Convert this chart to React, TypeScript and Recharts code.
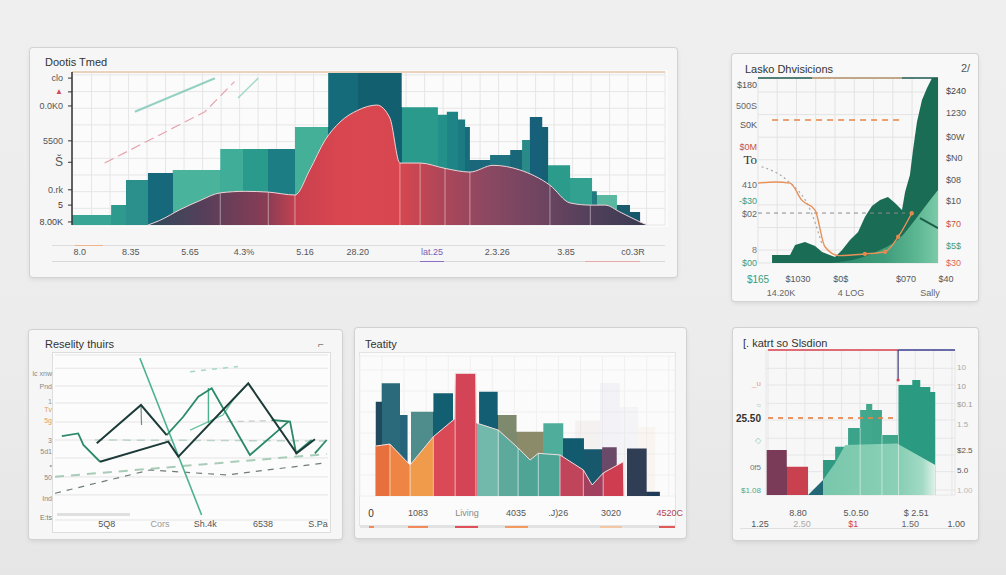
import React from "react";
import { ComposedChart, Area, Line, XAxis, YAxis, CartesianGrid, ReferenceLine, ReferenceDot } from "recharts";

const FONT = "'Liberation Sans', Arial, Helvetica, sans-serif";

type Pt = { u: number; v: number };
const zip = (xs: number[], vs: number[]): Pt[] => xs.map((u, i) => ({ u, v: vs[i] }));
const range = (a: number, step: number, b: number) => {
  const r: number[] = [];
  for (let t = a; t <= b + 1e-9; t += step) r.push(+t.toFixed(2));
  return r;
};

// ================= Panel 1 : "Dootis Tmed" =================
const trendStepX = [0, 6.6, 9.1, 12.8, 17.0, 25.0, 28.8, 33.1, 37.6, 43.2, 48.2, 55.6, 61.7, 63.2, 65.1, 66.3, 67.1, 70.5, 73.9, 75.9, 77.2, 79.3, 80.3, 84.0, 87.7, 88.5, 91.9, 94.1, 95.8];
const trendStepV = [6.5, 13, 29.4, 34, 36, 49.7, 49.7, 49.7, 64, 100, 100, 77, 72, 74, 69, 64, 42.5, 45.8, 49, 55.6, 70.6, 64, 39, 30.7, 22, 19.6, 13, 8.5, 0];
const trendStepColors = ["#38a595", "#2e9a8e", "#2b8f8c", "#16697b", "#4ab39b", "#40ad99", "#2a9a8d", "#1c7e84", "#45b098", "#156b79", "#12606f", "#2a9a8d", "#24908a", "#1f8486", "#1c7a82", "#176c7c", "#1b687b", "#1f7381", "#1a6679", "#2a8a88", "#17607a", "#165f75", "#2b9b8c", "#33a190", "#1f7a80", "#5ab8a0", "#1a5c6e", "#17566a"];
const trendWaveX = [12.8, 14.8, 18.2, 21.6, 25, 29.2, 33.1, 37.6, 40.1, 42.7, 45.2, 48.2, 51.4, 53.6, 55.3, 58.7, 62.9, 67.1, 71, 75.5, 80.6, 84, 87.4, 89.9, 92.4, 95.8, 97];
const trendWaveV = [0, 3, 10, 16, 21, 22, 21.5, 19.6, 36, 55.6, 67.3, 75, 78.4, 70, 40.5, 40.5, 37, 34.6, 39, 36, 26, 14.4, 13, 13, 8.5, 2, 0];
const trendWaveStopAt = [12.8, 22, 33, 38, 45, 55, 62, 70, 80, 90, 97];
const trendWaveStopColors = ["#2f4a5c", "#553f5a", "#8a3d55", "#c8414f", "#d9464f", "#d8474f", "#b04658", "#8c4862", "#6b4460", "#4a3e58", "#3a3a55"];
const trendSeparators = [25, 33.1, 37.6, 55.3, 58.7, 62.9, 67.1, 80.6, 87.4];
const trendPinkX = [5.5, 22.4, 27.4];
const trendPinkV = [40.5, 74, 93.7];
const trendTealX = [10.6, 24.1];
const trendTealV = [74, 95.9];
const trendTeal2X = [28, 31.4];
const trendTeal2V = [83, 96];
const trendXAt = [1.3, 9.9, 19.9, 29, 39.3, 48.2, 60.7, 71.7, 83.3, 94.6];
const trendXText = ["8.0", "8.35", "5.65", "4.3%", "5.16", "28.20", "lat.25", "2.3.26", "3.85", "c0.3R"];
const trendXColor = ["#555", "#555", "#555", "#555", "#555", "#555", "#7b5cb5", "#555", "#555", "#555"];
const trendYAt = [2, 13, 23, 41, 55, 77.8, 87, 96];
const trendYText = ["8.00K", "5", "0.rk", "Š", "5500", "0.0K0", "▲", "clo"];
const trendYColor = ["#444", "#6b2a2a", "#555", "#555", "#555", "#555", "#d04a58", "#555"];

// ================= Panel 2 : "Lasko Dhvisicions" =================
const divX = [7.8, 7.8, 17.8, 20.6, 26.1, 31.7, 35.6, 42.8, 46.7, 51.1, 55.6, 59.4, 63.3, 67.8, 72.2, 76.1, 80, 81.7, 84.4, 86.1, 88.3, 91.1, 93.9, 96.7, 100];
const divV = [0, 4.3, 4.3, 9.7, 11.4, 9.2, 5.9, 3.2, 7, 12.4, 16.8, 24.9, 30.8, 34, 35.7, 32.4, 28.6, 38.4, 47.6, 61, 76.2, 88.1, 94.6, 100, 100];
const divLightX = [40, 56.7, 67.8, 78.9, 87.2, 95.6, 100];
const divLightV = [0, 2.7, 7, 13.5, 23.2, 34, 39.5];
const divOrangeX = [0, 9.4, 17.8, 24.3, 31.7, 37.2, 45, 59.4, 70.6, 77.9, 85.4];
const divOrangeV = [43.2, 43.8, 43.2, 34, 28.6, 8.8, 4, 4.9, 6.1, 14.2, 26.9];
const divDotX = [59.4, 70.6, 77.9, 85.4];
const divDotV = [4.9, 6.1, 14.2, 26.9];
const divGrayX = [2, 15.9, 29.8, 35.4];
const divGrayV = [52, 44.9, 26.9, 10.6];
const divTailX = [90, 100];
const divTailV = [24.3, 18.9];
const divYLeftAt = [96, 85, 74.6, 62.7, 55.7, 42, 33.5, 26.5, 7, 0];
const divYLeftText = ["$180", "500S", "S0K", "$0M", "To", "410", "-$30", "$02", "8", "$00"];
const divYLeftColor = ["#555", "#666", "#555", "#c8553a", "#333", "#666", "#3a9c80", "#666", "#777", "#3a9c80"];
const divYRightAt = [93, 81, 68, 57, 45, 33.5, 21, 9, 0];
const divYRightText = ["$240", "1230", "$0W", "$N0", "$08", "$10", "$70", "$5$", "$30"];
const divYRightColor = ["#444", "#555", "#555", "#555", "#555", "#555", "#c8553a", "#3a9c80", "#d86a4a"];
const divXAt = [0, 12.8, 22.2, 46, 51.7, 82.2, 95.5, 104.4];
const divXText = ["$165", "14.20K", "$1030", "$0$", "4 LOG", "$070", "Sally", "$40"];
const divXRow = [0, 1, 0, 0, 1, 0, 1, 0];
const divXColor = ["#3a9c80", "#666", "#555", "#555", "#666", "#555", "#666", "#555"];

// ================= Panel 3 : "Reselity thuirs" =================
const realDark1X = [15.3, 31.5, 40.9];
const realDark1V = [46.5, 69.7, 51.5];
const realDark2X = [16.5, 41.5, 45.2, 70.8, 88.5, 95.2];
const realDark2V = [35.3, 47.5, 38.4, 82.8, 40.4, 48.9];
const realGreen1X = [2.5, 8.5, 10.4, 16.5];
const realGreen1V = [50.9, 52.5, 45.5, 35.3];
const realGreen2X = [40.9, 46.9, 52.5, 57.4, 71.4, 85.5];
const realGreen2V = [51.5, 62.4, 74.7, 79.8, 39.4, 59.6];
const realGreen3X = [79.4, 86.1, 88.3, 94];
const realGreen3V = [60.6, 59.6, 40.6, 48.5];
const realGreen4X = [95.2, 99.5];
const realGreen4V = [40.4, 48.5];
const realSteepX = [31.1, 53.7];
const realSteepV = [98, 3];
const realJagX = [49.5, 61.5, 65.2, 69.6];
const realJagV = [54.5, 63.6, 72.7, 80.8];
const realTickX = [31.5, 31.7];
const realTickV = [69.7, 57.6];
const realDropX = [56.2, 56.2];
const realDropV = [80, 58.8];
const realDashAX = [0, 99.5];
const realDashAV = [26.2, 40];
const realDashBX = [0, 34.8, 62.9, 99.5];
const realDashBV = [16.2, 30.3, 27.3, 34.7];
const realDashCX = [14.6, 99];
const realDashCV = [48.5, 47.9];
const realDashDX = [62.9, 80];
const realDashDV = [59.6, 60.2];
const realFaintX = [49.5, 67];
const realFaintV = [89.9, 93];
const realXAt = [19, 38.5, 55, 76.2, 96.3];
const realXText = ["5Q8", "Cors", "Sh.4k", "6538", "S.Pa"];
const realXColor = ["#555", "#999", "#555", "#555", "#555"];
const realYAt = [88.5, 81.2, 72, 66.7, 60.6, 47.9, 41.8, 33.3, 25.5, 13.3, 1.8];
const realYText = ["lc xnw", "Pnd", "1", "Tv", "5g", "3", "5d1", "•", "50", "Ind", "E:ts"];
const realYColor = ["#888", "#888", "#999", "#e0a060", "#e0a060", "#888", "#888", "#999", "#888", "#888", "#777"];
const realGridY = [15.2, 26.1, 37.6, 48.5, 59.4, 70.9, 81.2, 92];

// ================= Panel 4 : "Teatity" =================
const teaStepX = [5, 6.9, 12.7, 15.1, 16.2, 23.3, 29.6, 37.8, 43.7, 49.7, 58.2, 64.5, 71.1, 76.9, 81.5, 84.7, 91, 95.2];
const teaStepV = [67.4, 80.5, 57.9, 0, 60.2, 73.4, 0, 74.5, 57.9, 45.9, 51.9, 41.2, 33.4, 34.8, 0, 34, 3.1, 0];
const teaStepColors = ["#1f4a5e", "#2b6a7a", "#25637a", "#ffffff", "#4f8d8c", "#135f72", "#ffffff", "#135e72", "#7e8a6e", "#8b8b6a", "#4fae9b", "#125a6e", "#17586c", "#6b4a69", "#ffffff", "#2f3d55", "#1f3b58"];
const teaFrontX = [5, 9.5, 15.9, 23.3, 29.9, 30.2, 36.8, 37, 43.9, 50.2, 54, 56.6, 63.5, 70.9, 73.7, 77.2, 83.6, 83.8];
const teaFrontV = [35.7, 37.1, 22.1, 42.4, 54.8, 87.6, 87.6, 52.1, 47.1, 34.3, 25.7, 30.5, 29.3, 18.6, 7.9, 16.4, 24.5, 0];
const teaFrontBounds = [5, 9.5, 15.9, 23.3, 30, 37, 43.9, 50.2, 56.6, 63.5, 70.9, 77.2, 83.8];
const teaFrontColors = ["#e8703f", "#ee8544", "#f09a4c", "#d94a56", "#d24456", "#72b9ab", "#5daa9d", "#4fa495", "#4da596", "#c0445a", "#a1415f", "#cf3d50"];
const teaSepIdx = [1, 2, 3, 5, 6, 8, 9, 11, 12, 13, 15];
const teaGhostX = [68.3, 76.2, 82.5, 88.3, 93.7];
const teaGhostV = [54, 80.7, 63.6, 49.3, 0];
const teaGhostColors = ["#dccaca", "#d3cde3", "#d9d6e6", "#f1dcc6"];
const teaXAt = [3.5, 18.4, 34, 49.5, 62.9, 79.7, 98.3];
const teaXText = ["0", "1083", "Living", "4035", ".J)26", "3020", "4520C"];
const teaXColor = ["#333", "#555", "#8a8a8a", "#555", "#555", "#555", "#b04050"];

// ================= Panel 5 : "[. katrt so Slsdion" =================
const elecStepX = [0.4, 12.2, 24.7, 33.5, 40.6, 48.2, 55.3, 58.8, 62.4, 68.1, 77.8, 85.9, 90.6, 96.5, 99.4];
const elecStepV = [31, 19.5, 0, 24.1, 33.3, 46.2, 58.6, 62.8, 58.6, 41.4, 75.9, 79.3, 74.5, 71, 0];
const elecStepColors = ["#7a3b58", "#c9404f", "#17606e", "#2f9982", "#36a088", "#3aa38a", "#41a88e", "#41a88e", "#3fa68c", "#3fa68c", "#2a9a80", "#2a9a80", "#2a9a80", "#2a9a80"];
const elecFrontX = [24.7, 33.5, 40.6, 46.5, 77, 99.4];
const elecFrontV = [0, 10.3, 22, 34.5, 35.5, 20.7];
const elecSepIdx = [6, 9, 10];
const elecXAt = [-3.5, 18.8, 21.2, 51.2, 52.9, 84.7, 88.2, 111.8];
const elecXText = ["1.25", "8.80", "2.50", "$1", "5.0.50", "1.50", "$ 2.51", "1.00"];
const elecXRow = [1, 0, 1, 1, 0, 1, 0, 1];
const elecXColor = ["#555", "#555", "#aaa", "#d04050", "#555", "#666", "#555", "#555"];
const elecYLeftAt = [76.6, 62, 53.1, 37.9, 19.3, 3.4];
const elecYLeftText = ["_u", "≈", "25.50", "◇", "0f5", "$1.08"];
const elecYLeftColor = ["#e3a080", "#a8d4c4", "#333", "#8ccab6", "#777", "#4fa88c"];
const elecYRightAt = [87.6, 74.5, 62.1, 48.3, 31, 17.2, 3.4];
const elecYRightText = ["10", "10", "$0.1", "1.5", "$2.5", "5.0", "1.00"];
const elecYRightColor = ["#aaa", "#999", "#999", "#aaa", "#555", "#555", "#bbb"];

// ================= helpers =================
function hardStops(xs: number[], colors: string[], opacity = 1) {
  const lo = xs[0], hi = xs[xs.length - 1];
  const out: any[] = [];
  colors.forEach((c, i) => {
    out.push(<stop key={`a${i}`} offset={(xs[i] - lo) / (hi - lo)} stopColor={c} stopOpacity={opacity} />);
    out.push(<stop key={`b${i}`} offset={(xs[i + 1] - lo) / (hi - lo)} stopColor={c} stopOpacity={opacity} />);
  });
  return out;
}
function softStops(at: number[], colors: string[], lo: number, hi: number) {
  return at.map((a, i) => <stop key={i} offset={(a - lo) / (hi - lo)} stopColor={colors[i]} />);
}

type TickOpts = { dx?: number; dy?: number; anchor?: string; size?: number; rows?: number[]; rowGap?: number; special?: Record<string, any> };
function mkTick(at: number[], text: string[], color: string[], o: TickOpts = {}) {
  return (p: any) => {
    const val = p?.payload?.value;
    const i = at.findIndex((a) => Math.abs(a - val) < 1e-6);
    if (i < 0) return <g />;
    const row = o.rows ? o.rows[i] : 0;
    const sp = (o.special && o.special[text[i]]) || {};
    return (
      <text
        x={p.x + (o.dx || 0)}
        y={p.y + (o.dy || 0) + row * (o.rowGap || 0)}
        textAnchor={sp.anchor || o.anchor || "middle"}
        dominantBaseline="central"
        fontSize={sp.size || o.size || 9}
        fontFamily={sp.family || FONT}
        fontWeight={sp.weight || 400}
        fill={color[i] || "#666"}
      >
        {text[i]}
      </text>
    );
  };
}

function Card({ x, y, w, h, bg = "#f6f6f6", children }: any) {
  return (
    <div style={{ position: "absolute", left: x, top: y, width: w, height: h, background: bg, borderRadius: 3, boxShadow: "0 0 0 1px #d2d2d2, 0 2px 5px rgba(0,0,0,0.10)", overflow: "hidden" }}>
      {children}
    </div>
  );
}
function Box({ x, y, w, h, bg, border }: any) {
  return <div style={{ position: "absolute", left: x, top: y, width: w, height: h, background: bg, boxShadow: border ? `0 0 0 1px ${border}` : undefined }} />;
}
function Rule({ x, y, w, color, h = 1 }: any) {
  return <div style={{ position: "absolute", left: x, top: y, width: w, height: h, background: color }} />;
}
function Title({ x, y, size = 11, color = "#333", children }: any) {
  return <div style={{ position: "absolute", left: x, top: y, fontSize: size, color, fontFamily: FONT, lineHeight: `${size + 2}px`, whiteSpace: "nowrap" }}>{children}</div>;
}

const noAnim = { isAnimationActive: false, dot: false, activeDot: false } as const;

function L({ xs, vs, color, width = 1.6, dash, opacity = 1, type = "linear" }: any) {
  return (
    <Line xAxisId="x" yAxisId="y" data={zip(xs, vs)} dataKey="v" type={type} stroke={color} strokeWidth={width} strokeDasharray={dash} strokeOpacity={opacity} {...noAnim} />
  );
}
// invisible anchor series so that the label axis owns data points at its tick positions
function Anchor({ at }: { at: number[] }) {
  return <Line xAxisId="lab" yAxisId="y" data={at.map((u) => ({ u, v: 0 }))} dataKey="v" stroke="none" {...noAnim} />;
}

// ================= Panels =================
function TrendPanel() {
  const W = 647, H = 229;
  return (
    <Card x={30} y={48} w={W} h={H}>
      <Box x={42} y={22} w={596} h={157} bg="#fbfbfb" />
      <Title x={15} y={8} size={11}>Dootis Tmed</Title>
      <Rule x={22} y={197} w={613} color="#dddddd" />
      <Rule x={45} y={197} w={28} color="#efb48c" />
      <Rule x={22} y={213} w={613} color="#d9d9d9" />
      <Rule x={390} y={213} w={24} color="#8c6fc4" />
      <Rule x={555} y={213} w={55} color="#e6a9a9" />
      <div style={{ position: "absolute", left: 0, top: 0 }}>
        <ComposedChart width={W} height={H} margin={{ top: 24, right: 12, bottom: 12, left: 8 }}>
          <defs>
            <linearGradient id="trendSteps" x1="0" y1="0" x2="1" y2="0">{hardStops(trendStepX, trendStepColors)}</linearGradient>
            <linearGradient id="trendWave" x1="0" y1="0" x2="1" y2="0">
              {softStops(trendWaveStopAt, trendWaveStopColors, trendWaveX[0], trendWaveX[trendWaveX.length - 1])}
            </linearGradient>
          </defs>
          <XAxis xAxisId="x" dataKey="u" type="number" domain={[0, 100]} allowDataOverflow hide ticks={range(3.3, 3.12, 100)} interval={0} />
          <YAxis yAxisId="y" type="number" domain={[0, 100]} allowDataOverflow hide ticks={range(10.9, 10.9, 99)} interval={0} />
          <XAxis xAxisId="lab" dataKey="u" type="number" domain={[0, 100]} allowDataOverflow ticks={trendXAt} interval={0} axisLine={false} tickLine={false} tickSize={0} tickMargin={0} height={40}
            tick={mkTick(trendXAt, trendXText, trendXColor, { dy: 27, size: 9 })} />
          <YAxis yAxisId="lab" type="number" domain={[0, 100]} allowDataOverflow ticks={trendYAt} interval={0} width={34} axisLine={{ stroke: "#333", strokeWidth: 1.5 }} tickLine={{ stroke: "#333" }} tickSize={4} tickMargin={5}
            tick={mkTick(trendYAt, trendYText, trendYColor, { anchor: "end", size: 9, special: { "▲": { size: 8 }, "Š": { size: 12 } } })} />
          <CartesianGrid xAxisId="x" yAxisId="y" stroke="#e6e6e6" />
          <ReferenceLine xAxisId="x" yAxisId="y" y={100} stroke="#ead2bd" strokeWidth={2} />
          <L xs={trendPinkX} vs={trendPinkV} color="#e6a3ad" width={1.2} dash="10 5" />
          <L xs={trendTealX} vs={trendTealV} color="#7cc7b4" width={2} opacity={0.8} />
          <L xs={trendTeal2X} vs={trendTeal2V} color="#8fcfbf" width={1.5} opacity={0.8} />
          <Area xAxisId="x" yAxisId="y" data={zip(trendStepX, trendStepV)} dataKey="v" type="stepAfter" stroke="none" fill="url(#trendSteps)" fillOpacity={1} {...noAnim} />
          <Area xAxisId="x" yAxisId="y" data={zip(trendWaveX, trendWaveV)} dataKey="v" type="monotone" stroke="#f1d2d4" strokeWidth={1} fill="url(#trendWave)" fillOpacity={1} {...noAnim} />
          {trendSeparators.map((u) => {
            const i = trendWaveX.indexOf(u);
            return <ReferenceLine key={u} xAxisId="x" yAxisId="y" segment={[{ x: u, y: 0 }, { x: u, y: trendWaveV[i] }]} stroke="#ffffff" strokeOpacity={0.45} strokeWidth={1} />;
          })}
          <Anchor at={trendXAt} />
        </ComposedChart>
      </div>
    </Card>
  );
}

function DivisionsPanel() {
  const W = 246, H = 247;
  return (
    <Card x={732} y={54} w={W} h={H} bg="#f8f8f8">
      <Title x={13} y={9} size={11}>Lasko Dhvisicions</Title>
      <Title x={229} y={8} size={11} color="#555">2/</Title>
      <div style={{ position: "absolute", left: 0, top: 0 }}>
        <ComposedChart width={W} height={H} margin={{ top: 24, right: 2, bottom: 4, left: 2 }}>
          <defs>
            <linearGradient id="divLight" x1="0" y1="0" x2="1" y2="0">
              {softStops([40, 70, 88, 100], ["#2c8768", "#3f9c7b", "#5cb692", "#7ccaa8"], 40, 100)}
            </linearGradient>
          </defs>
          <XAxis xAxisId="x" dataKey="u" type="number" domain={[0, 100]} allowDataOverflow hide ticks={range(0, 10.7, 100)} interval={0} />
          <YAxis yAxisId="y" type="number" domain={[0, 100]} allowDataOverflow hide ticks={[7, 19.2, 31.4, 43.6, 55.8, 68, 80.2, 92.4]} interval={0} />
          <XAxis xAxisId="lab" dataKey="u" type="number" domain={[0, 100]} allowDataOverflow ticks={divXAt} interval={0} axisLine={false} tickLine={false} tickSize={0} tickMargin={0} height={34}
            tick={mkTick(divXAt, divXText, divXColor, { dy: 16, rows: divXRow, rowGap: 14, size: 9, special: { "$165": { size: 10 } } })} />
          <YAxis yAxisId="lab" type="number" domain={[0, 100]} allowDataOverflow ticks={divYLeftAt} interval={0} width={24} axisLine={false} tickLine={false} tickSize={0} tickMargin={1}
            tick={mkTick(divYLeftAt, divYLeftText, divYLeftColor, { anchor: "end", size: 9, special: { To: { size: 13, family: "'Liberation Serif', serif" } } })} />
          <YAxis yAxisId="labR" orientation="right" type="number" domain={[0, 100]} allowDataOverflow ticks={divYRightAt} interval={0} width={38} axisLine={false} tickLine={false} tickSize={0} tickMargin={8}
            tick={mkTick(divYRightAt, divYRightText, divYRightColor, { anchor: "start", size: 9 })} />
          <CartesianGrid xAxisId="x" yAxisId="y" stroke="#e3e3e3" />
          <ReferenceLine xAxisId="x" yAxisId="y" y={100} stroke="#1f5a52" strokeWidth={1.5} />
          <ReferenceLine xAxisId="x" yAxisId="y" segment={[{ x: 30, y: 100 }, { x: 80, y: 100 }]} stroke="#e6b58e" strokeWidth={1.5} />
          <ReferenceLine xAxisId="x" yAxisId="y" segment={[{ x: 7.8, y: 77.3 }, { x: 80, y: 77.3 }]} stroke="#e8925a" strokeWidth={2} strokeDasharray="6 5" strokeOpacity={0.85} />
          <ReferenceLine xAxisId="x" yAxisId="y" segment={[{ x: 0, y: 27 }, { x: 81.7, y: 27 }]} stroke="#8a8a8a" strokeWidth={1} strokeDasharray="4 4" />
          <Area xAxisId="x" yAxisId="y" data={zip(divX, divV)} dataKey="v" type="linear" stroke="none" fill="#1b6c54" fillOpacity={1} {...noAnim} />
          <Area xAxisId="x" yAxisId="y" data={zip(divLightX, divLightV)} dataKey="v" type="monotone" stroke="none" fill="url(#divLight)" fillOpacity={1} {...noAnim} />
          <L xs={divGrayX} vs={divGrayV} color="#a8a8a8" width={1.2} dash="2 3" type="monotone" />
          <L xs={divOrangeX} vs={divOrangeV} color="#e8925a" width={1.4} type="monotone" />
          <L xs={divTailX} vs={divTailV} color="#1e5e4a" width={2} />
          <Line xAxisId="x" yAxisId="y" data={zip(divDotX, divDotV)} dataKey="v" stroke="none" isAnimationActive={false} activeDot={false} dot={{ r: 2.2, fill: "#e08a50", stroke: "none" }} />
          <Anchor at={divXAt} />
        </ComposedChart>
      </div>
    </Card>
  );
}

function RealityPanel() {
  const W = 313, H = 209;
  return (
    <Card x={29} y={330} w={W} h={H}>
      <Box x={24} y={23} w={277} h={179} bg="#fcfcfc" border="#dddddd" />
      <Title x={16} y={8} size={11}>Reselity thuirs</Title>
      <Title x={289} y={9} size={10} color="#777">⌐</Title>
      <Rule x={28} y={183} w={73} h={3} color="#e0e0e0" />
      <div style={{ position: "absolute", left: 0, top: 0 }}>
        <ComposedChart width={W} height={H} margin={{ top: 25, right: 14, bottom: 5, left: 4 }}>
          <XAxis xAxisId="x" dataKey="u" type="number" domain={[0, 100]} allowDataOverflow hide ticks={[]} />
          <YAxis yAxisId="y" type="number" domain={[0, 100]} allowDataOverflow hide ticks={realGridY} interval={0} />
          <XAxis xAxisId="lab" dataKey="u" type="number" domain={[0, 100]} allowDataOverflow ticks={realXAt} interval={0} axisLine={false} tickLine={false} tickSize={0} tickMargin={0} height={14}
            tick={mkTick(realXAt, realXText, realXColor, { dy: 4, size: 9 })} />
          <YAxis yAxisId="lab" type="number" domain={[0, 100]} allowDataOverflow ticks={realYAt} interval={0} width={22} axisLine={false} tickLine={false} tickSize={0} tickMargin={3}
            tick={mkTick(realYAt, realYText, realYColor, { anchor: "end", size: 7 })} />
          <CartesianGrid xAxisId="x" yAxisId="y" stroke="#e4e4e4" vertical={false} />
          <L xs={realFaintX} vs={realFaintV} color="#a6d6c3" width={1.5} dash="5 6" />
          <L xs={realDashAX} vs={realDashAV} color="#a9cbb9" width={2} dash="9 7" />
          <L xs={realDashBX} vs={realDashBV} color="#6f7c78" width={1.2} dash="6 6" />
          <L xs={realDashCX} vs={realDashCV} color="#bcd3c9" width={1.5} dash="8 6" />
          <L xs={realDashDX} vs={realDashDV} color="#c9c9c9" width={1.2} dash="6 5" />
          <L xs={realSteepX} vs={realSteepV} color="#4cb28e" width={1.6} />
          <L xs={realJagX} vs={realJagV} color="#6cc3a2" width={1.4} />
          <L xs={realDropX} vs={realDropV} color="#4cb28e" width={1.4} />
          <L xs={realTickX} vs={realTickV} color="#6e8e86" width={1.2} />
          <L xs={realGreen1X} vs={realGreen1V} color="#2c8a68" width={1.8} />
          <L xs={realGreen2X} vs={realGreen2V} color="#2c8a68" width={1.8} />
          <L xs={realGreen3X} vs={realGreen3V} color="#2c8a68" width={1.8} />
          <L xs={realGreen4X} vs={realGreen4V} color="#2c8a68" width={1.8} />
          <L xs={realDark1X} vs={realDark1V} color="#1d3b39" width={2} />
          <L xs={realDark2X} vs={realDark2V} color="#1d3b39" width={2} />
          <Anchor at={realXAt} />
        </ComposedChart>
      </div>
    </Card>
  );
}

function TeacityPanel() {
  const W = 331, H = 210;
  return (
    <Card x={355} y={328} w={W} h={H}>
      <Box x={5} y={25} w={315} h={172} bg="#fbfbfb" border="#e3e3e3" />
      <Title x={10} y={10} size={11}>Teatity</Title>
      <Rule x={5} y={198} w={315} color="#e2e2e2" h={2} />
      <Rule x={14} y={198} w={5} color="#f08a5a" h={2} />
      <Rule x={53} y={198} w={20} color="#f08a5a" h={2} />
      <Rule x={100} y={198} w={23} color="#e0505a" h={2} />
      <Rule x={150} y={198} w={23} color="#f39a60" h={2} />
      <Rule x={245} y={198} w={22} color="#f3c6a4" h={2} />
      <Rule x={304} y={198} w={16} color="#e05a5a" h={2} />
      <div style={{ position: "absolute", left: 0, top: 0 }}>
        <ComposedChart width={W} height={H} margin={{ top: 28, right: 11, bottom: 12, left: 5 }}>
          <defs>
            <linearGradient id="teaSteps" x1="0" y1="0" x2="1" y2="0">{hardStops(teaStepX, teaStepColors)}</linearGradient>
            <linearGradient id="teaFront" x1="0" y1="0" x2="1" y2="0">{hardStops(teaFrontBounds, teaFrontColors)}</linearGradient>
            <linearGradient id="teaGhost" x1="0" y1="0" x2="1" y2="0">{hardStops(teaGhostX, teaGhostColors, 0.2)}</linearGradient>
          </defs>
          <XAxis xAxisId="x" dataKey="u" type="number" domain={[0, 100]} allowDataOverflow hide ticks={range(0, 7, 100)} interval={0} />
          <YAxis yAxisId="y" type="number" domain={[0, 100]} allowDataOverflow hide ticks={range(15, 15, 100)} interval={0} />
          <XAxis xAxisId="lab" dataKey="u" type="number" domain={[0, 100]} allowDataOverflow ticks={teaXAt} interval={0} axisLine={false} tickLine={false} tickSize={0} tickMargin={0} height={30}
            tick={mkTick(teaXAt, teaXText, teaXColor, { dy: 17, size: 9, special: { "0": { size: 10 } } })} />
          <CartesianGrid xAxisId="x" yAxisId="y" stroke="#f0f0f0" />
          <Area xAxisId="x" yAxisId="y" data={zip(teaGhostX, teaGhostV)} dataKey="v" type="stepAfter" stroke="none" fill="url(#teaGhost)" fillOpacity={1} {...noAnim} />
          <Area xAxisId="x" yAxisId="y" data={zip(teaStepX, teaStepV)} dataKey="v" type="stepAfter" stroke="none" fill="url(#teaSteps)" fillOpacity={1} {...noAnim} />
          <Area xAxisId="x" yAxisId="y" data={zip(teaFrontX, teaFrontV)} dataKey="v" type="linear" stroke="#f4dfe0" strokeWidth={1} fill="url(#teaFront)" fillOpacity={1} {...noAnim} />
          {teaSepIdx.map((i) => (
            <ReferenceLine key={i} xAxisId="x" yAxisId="y" segment={[{ x: teaFrontX[i], y: 0 }, { x: teaFrontX[i], y: teaFrontV[i] }]} stroke="#ffffff" strokeOpacity={0.6} strokeWidth={1} />
          ))}
          <Anchor at={teaXAt} />
        </ComposedChart>
      </div>
    </Card>
  );
}

function ElectionPanel() {
  const W = 245, H = 212;
  return (
    <Card x={733} y={328} w={W} h={H} bg="#f7f7f7">
      <Title x={10} y={9} size={11}>[. katrt so Slsdion</Title>
      <Rule x={7} y={200} w={220} color="#e0e0e0" />
      <div style={{ position: "absolute", left: 0, top: 0 }}>
        <ComposedChart width={W} height={H} margin={{ top: 22, right: 3, bottom: 11, left: 3 }}>
          <defs>
            <linearGradient id="elecSteps" x1="0" y1="0" x2="1" y2="0">{hardStops(elecStepX, elecStepColors)}</linearGradient>
            <linearGradient id="elecFront" x1="0" y1="0" x2="1" y2="0">
              <stop offset={0} stopColor="#17606e" />
              <stop offset={(33.5 - 24.7) / (99.4 - 24.7)} stopColor="#17606e" />
              <stop offset={(33.5 - 24.7) / (99.4 - 24.7)} stopColor="#7cc9ae" />
              <stop offset={(80 - 24.7) / (99.4 - 24.7)} stopColor="#8fd3b9" />
              <stop offset={(92 - 24.7) / (99.4 - 24.7)} stopColor="#aadec9" />
              <stop offset={1} stopColor="#eaf6f0" />
            </linearGradient>
          </defs>
          <XAxis xAxisId="x" dataKey="u" type="number" domain={[0, 111]} allowDataOverflow hide ticks={range(1.2, 10.8, 111)} interval={0} />
          <YAxis yAxisId="y" type="number" domain={[0, 100]} allowDataOverflow hide ticks={[3.4, 16.1, 27.6, 39.1, 51.7, 63.2, 75.9, 87.4]} interval={0} />
          <XAxis xAxisId="lab" dataKey="u" type="number" domain={[0, 111]} allowDataOverflow ticks={elecXAt} interval={0} axisLine={false} tickLine={false} tickSize={0} tickMargin={0} height={34}
            tick={mkTick(elecXAt, elecXText, elecXColor, { dy: 18, rows: elecXRow, rowGap: 11, size: 9 })} />
          <YAxis yAxisId="lab" type="number" domain={[0, 100]} allowDataOverflow ticks={elecYLeftAt} interval={0} width={30} axisLine={false} tickLine={false} tickSize={0} tickMargin={5}
            tick={mkTick(elecYLeftAt, elecYLeftText, elecYLeftColor, { anchor: "end", size: 8, special: { "25.50": { size: 10, weight: 600 } } })} />
          <YAxis yAxisId="labR" orientation="right" type="number" domain={[0, 100]} allowDataOverflow ticks={elecYRightAt} interval={0} width={20} axisLine={false} tickLine={false} tickSize={0} tickMargin={2}
            tick={mkTick(elecYRightAt, elecYRightText, elecYRightColor, { anchor: "start", size: 8 })} />
          <CartesianGrid xAxisId="x" yAxisId="y" stroke="#e6e6e6" />
          <Area xAxisId="x" yAxisId="y" data={zip(elecStepX, elecStepV)} dataKey="v" type="stepAfter" stroke="none" fill="url(#elecSteps)" fillOpacity={1} {...noAnim} />
          <Area xAxisId="x" yAxisId="y" data={zip(elecFrontX, elecFrontV)} dataKey="v" type="linear" stroke="none" fill="url(#elecFront)" fillOpacity={0.95} {...noAnim} />
          {elecSepIdx.map((i) => (
            <ReferenceLine key={i} xAxisId="x" yAxisId="y" segment={[{ x: elecStepX[i], y: 0 }, { x: elecStepX[i], y: Math.min(elecStepV[i], elecStepV[i - 1]) }]} stroke="#ffffff" strokeOpacity={0.5} strokeWidth={1} />
          ))}
          <ReferenceLine xAxisId="x" yAxisId="y" segment={[{ x: 1.2, y: 53.1 }, { x: 77, y: 53.1 }]} stroke="#e8824a" strokeWidth={2} strokeDasharray="5 5" strokeOpacity={0.85} />
          <ReferenceLine xAxisId="x" yAxisId="y" segment={[{ x: 1.2, y: 100 }, { x: 77.6, y: 100 }]} stroke="#d8404f" strokeWidth={1.5} />
          <ReferenceLine xAxisId="x" yAxisId="y" segment={[{ x: 77.6, y: 100 }, { x: 111, y: 100 }]} stroke="#3c3f92" strokeWidth={1.5} />
          <ReferenceLine xAxisId="x" yAxisId="y" segment={[{ x: 77.6, y: 100 }, { x: 77.6, y: 79.3 }]} stroke="#3b3a7a" strokeWidth={1.2} />
          <ReferenceDot xAxisId="x" yAxisId="y" x={77.6} y={79.3} r={1.6} fill="#d8404f" stroke="none" />
          <Anchor at={elecXAt} />
        </ComposedChart>
      </div>
    </Card>
  );
}

export default function App() {
  return (
    <div style={{ position: "fixed", left: 0, top: 0, width: 1006, height: 575, background: "linear-gradient(#efeff0 0%, #ececed 60%, #e6e6e7 100%)", fontFamily: FONT, overflow: "hidden" }}>
      <TrendPanel />
      <DivisionsPanel />
      <RealityPanel />
      <TeacityPanel />
      <ElectionPanel />
    </div>
  );
}
